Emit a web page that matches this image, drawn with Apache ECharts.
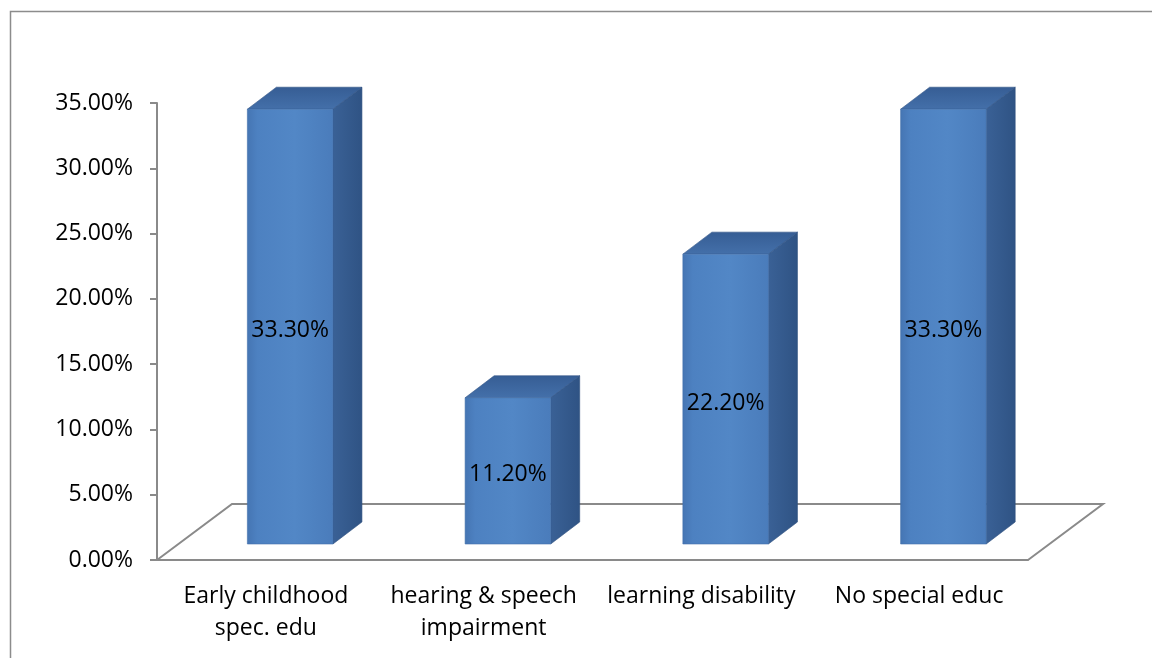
<!DOCTYPE html>
<html>
<head>
<meta charset="utf-8">
<script src="https://cdn.jsdelivr.net/npm/echarts@6/dist/echarts.min.js"></script>
<style>
  html, body { margin: 0; padding: 0; background: #fff; }
  #chart { width: 1152px; height: 658px; }
</style>
</head>
<body>
<div id="chart"></div>
<script>
// Share of respondents by type of special education
const categories = ['Early childhood\nspec. edu', 'hearing & speech\nimpairment', 'learning disability', 'No special educ'];
const shares = [33.3, 11.2, 22.2, 33.3];   // percent
const yMin = 0, yMax = 35, yStep = 5;

const FONT = '"Open Sans", "Noto Sans", sans-serif';
const FONT_SIZE = 23;
const AXIS_GREY = '#8a8a8a';

// Depth of the floor and of each bar, in pixels (pseudo-3D projection)
const FLOOR_DX = 75, FLOOR_DY = -56;
const BAR_DX = 29, BAR_DY = -22;

const chart = echarts.init(document.getElementById('chart'));

function renderFloor(params, api) {
  const cs = params.coordSys;
  const fl = [cs.x, cs.y + cs.height];
  const fr = [cs.x + cs.width, cs.y + cs.height];
  return {
    type: 'polyline',
    shape: {
      points: [
        fl,
        [fl[0] + FLOOR_DX, fl[1] + FLOOR_DY],
        [fr[0] + FLOOR_DX, fr[1] + FLOOR_DY],
        fr
      ]
    },
    style: { stroke: AXIS_GREY, lineWidth: 2, fill: null }
  };
}

function renderBar(params, api) {
  const i = api.value(0), v = api.value(1);
  const base = api.coord([i, 0]);
  const top = api.coord([i, v]);
  const band = api.size([1, 0])[0];
  // front face sits a little inside the floor depth
  const x0 = base[0] - band * 0.085;
  const x1 = base[0] + band * 0.308;
  const y0 = base[1] - 16;
  const y1 = top[1] - 16;

  const front = {
    type: 'rect',
    shape: { x: x0, y: y1, width: x1 - x0, height: y0 - y1 },
    style: {
      fill: new echarts.graphic.LinearGradient(0, 0, 1, 0, [
        { offset: 0, color: '#4575b3' },
        { offset: 0.12, color: '#4d81c1' },
        { offset: 0.55, color: '#5287c6' },
        { offset: 1, color: '#4a7cbb' }
      ]),
      stroke: '#4370ab', lineWidth: 0.6
    }
  };
  const side = {
    type: 'polygon',
    shape: { points: [[x1, y0], [x1 + BAR_DX, y0 + BAR_DY], [x1 + BAR_DX, y1 + BAR_DY], [x1, y1]] },
    style: {
      fill: new echarts.graphic.LinearGradient(0, 0, 1, 0, [
        { offset: 0, color: '#3a6196' },
        { offset: 1, color: '#2f5384' }
      ]),
      stroke: '#2d4f7e', lineWidth: 0.6
    }
  };
  const lid = {
    type: 'polygon',
    shape: { points: [[x0, y1], [x0 + BAR_DX, y1 + BAR_DY], [x1 + BAR_DX, y1 + BAR_DY], [x1, y1]] },
    style: {
      fill: new echarts.graphic.LinearGradient(0, 1, 0, 0, [
        { offset: 0, color: '#4470aa' },
        { offset: 1, color: '#365d94' }
      ]),
      stroke: '#2f5384', lineWidth: 0.6
    }
  };
  const label = {
    type: 'text',
    style: {
      x: (x0 + x1) / 2,
      y: (y0 + y1) / 2 + 4,
      text: v.toFixed(2) + '%',
      fill: '#000',
      font: FONT_SIZE + 'px ' + FONT,
      align: 'center',
      verticalAlign: 'middle'
    }
  };
  return { type: 'group', children: [side, lid, front, label] };
}

chart.setOption({
  animation: false,
  backgroundColor: '#fff',
  graphic: [{
    type: 'polyline',
    shape: { points: [[10.5, 700], [10.5, 11.5], [1160, 11.5]] },
    style: { stroke: '#8c8c8c', lineWidth: 1.5, fill: null }
  }],
  grid: { left: 157, right: 124, top: 103, bottom: 98, containLabel: false, outerBoundsMode: 'none' },
  xAxis: {
    type: 'category',
    data: categories,
    axisLine: { lineStyle: { color: AXIS_GREY, width: 2 } },
    axisTick: { length: 8, lineStyle: { color: AXIS_GREY, width: 2 } },
    axisLabel: {
      margin: 20, interval: 0,
      color: '#000', fontFamily: FONT, fontSize: FONT_SIZE, lineHeight: 32
    }
  },
  yAxis: {
    type: 'value',
    min: yMin, max: yMax, interval: yStep,
    axisLine: { show: true, lineStyle: { color: AXIS_GREY, width: 2 } },
    axisTick: { show: true, length: 7, lineStyle: { color: AXIS_GREY, width: 2 } },
    splitLine: { show: false },
    axisLabel: {
      margin: 24,
      padding: [5, 0, 0, 0],
      color: '#000', fontFamily: FONT, fontSize: FONT_SIZE,
      formatter: (val) => val.toFixed(2) + '%'
    }
  },
  series: [
    {
      type: 'custom',
      name: 'floor',
      clip: false,
      z: 1,
      data: [[0, 0]],
      renderItem: renderFloor
    },
    {
      type: 'custom',
      name: 'share',
      clip: false,
      z: 3,
      data: shares.map((v, i) => [i, v]),
      renderItem: renderBar
    }
  ]
});
</script>
</body>
</html>
